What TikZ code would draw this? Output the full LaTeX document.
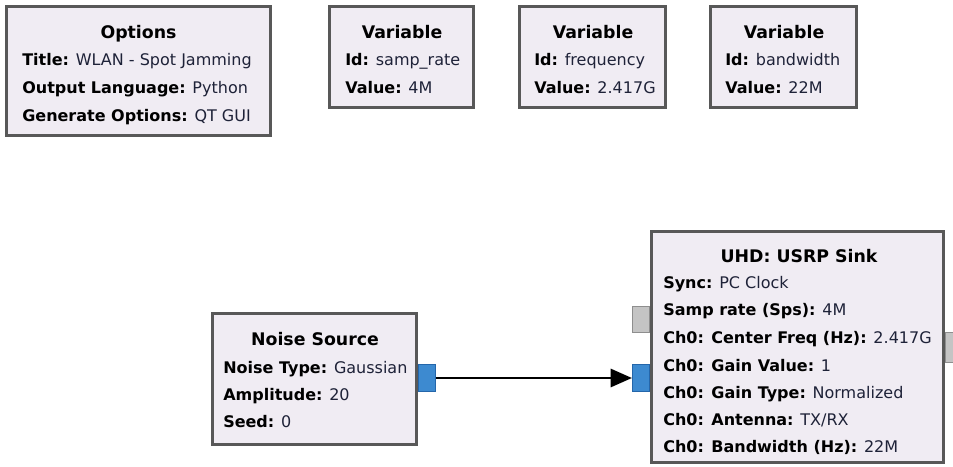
\documentclass[tikz,border=0pt]{standalone}
\usepackage{fontspec}
\setmainfont{DejaVu Sans}
\usetikzlibrary{arrows.meta}
\definecolor{blockfill}{HTML}{F0ECF3}
\definecolor{blockline}{HTML}{585858}
\definecolor{portblue}{HTML}{3D8AD0}
\definecolor{portblueline}{HTML}{2466AA}
\definecolor{portgray}{HTML}{C4C4C4}
\definecolor{portgrayline}{HTML}{8E8E8E}
\definecolor{valtext}{HTML}{1E2238}
\def\fld#1#2{\textbf{#1:} {\color{valtext}#2}}

\begin{document}
\begin{tikzpicture}[x=0.75pt, y=-0.75pt,
		block/.style={draw=blockline, fill=blockfill, line width=2.2pt, inner sep=0pt},
		blueport/.style={draw=portblueline, fill=portblue, line width=1.1pt, minimum width=12.4pt, minimum height=19.9pt, inner sep=0pt},
		grayport/.style={draw=portgrayline, fill=portgray, line width=1.1pt, minimum width=12.4pt, inner sep=0pt},
		head/.style={anchor=base, inner sep=0pt, font=\fontsize{13}{15}\selectfont\bfseries},
		line/.style={anchor=base west, inner sep=0pt, font=\fontsize{12}{14}\selectfont}]
		%%%%% START %%%%%
		
		\useasboundingbox[fill=white] (0, 0) rectangle (953, 467);
		
		% ports
		\node[blueport] (noise-out) at (427, 378) {};
		\node[blueport] (sink-in) at (641, 378) {};
		\node[grayport, minimum height=19.5pt] (sink-msg) at (641, 319.5) {};
		\node[grayport, minimum height=22.5pt] (sink-async) at (954, 347.5) {};
		
		% options
		\node[block, minimum width=198pt, minimum height=96.75pt] (opt) at (138.5, 71) {};
		\node[head] (opt-t) at (138.5, 39) {Options};
		\node[line] (opt-1) at (22, 66) {\fld{Title}{WLAN - Spot Jamming}};
		\node[line] (opt-2) at (22, 93.5) {\fld{Output Language}{Python}};
		\node[line] (opt-3) at (22, 121) {\fld{Generate Options}{QT GUI}};
		
		% variables
		\node[block, minimum width=108pt, minimum height=75.75pt] (var-a) at (401.5, 57) {};
		\node[head] (var-a-t) at (402, 39) {Variable};
		\node[line] (var-a-1) at (345, 66) {\fld{Id}{samp\_rate}};
		\node[line] (var-a-2) at (345, 93.5) {\fld{Value}{4M}};
		
		\node[block, minimum width=109.5pt, minimum height=75.75pt] (var-b) at (592.5, 57) {};
		\node[head] (var-b-t) at (593, 39) {Variable};
		\node[line] (var-b-1) at (534, 66) {\fld{Id}{frequency}};
		\node[line] (var-b-2) at (534, 93.5) {\fld{Value}{2.417G}};
		
		\node[block, minimum width=109.5pt, minimum height=75.75pt] (var-c) at (783.5, 57) {};
		\node[head] (var-c-t) at (784, 39) {Variable};
		\node[line] (var-c-1) at (725, 66) {\fld{Id}{bandwidth}};
		\node[line] (var-c-2) at (725, 93.5) {\fld{Value}{22M}};
		
		% noise source
		\node[block, minimum width=153pt, minimum height=98.25pt] (noise) at (314.5, 379) {};
		\node[head] (noise-t) at (315, 345) {Noise Source};
		\node[line] (noise-1) at (223, 373) {\fld{Noise Type}{Gaussian}};
		\node[line] (noise-2) at (223, 400) {\fld{Amplitude}{20}};
		\node[line] (noise-3) at (223, 427) {\fld{Seed}{0}};
		
		% usrp sink
		\node[block, minimum width=219pt, minimum height=173.25pt] (sink) at (797.5, 347) {};
		\node[head] (sink-t) at (799, 262) {UHD: USRP Sink};
		\node[line] (sink-1) at (663, 288) {\fld{Sync}{PC Clock}};
		\node[line] (sink-2) at (663, 315) {\fld{Samp rate (Sps)}{4M}};
		\node[line] (sink-3) at (663, 343) {\fld{Ch0: Center Freq (Hz)}{2.417G}};
		\node[line] (sink-4) at (663, 371) {\fld{Ch0: Gain Value}{1}};
		\node[line] (sink-5) at (663, 398) {\fld{Ch0: Gain Type}{Normalized}};
		\node[line] (sink-6) at (663, 425) {\fld{Ch0: Antenna}{TX/RX}};
		\node[line] (sink-7) at (663, 452) {\fld{Ch0: Bandwidth (Hz)}{22M}};
		
		\draw[line width=2.2pt, -{Triangle[length=16pt, width=13.5pt]}] (noise-out.east) -- (sink-in.west);
		
		%%%%% END %%%%%
	\end{tikzpicture}
\end{document}
